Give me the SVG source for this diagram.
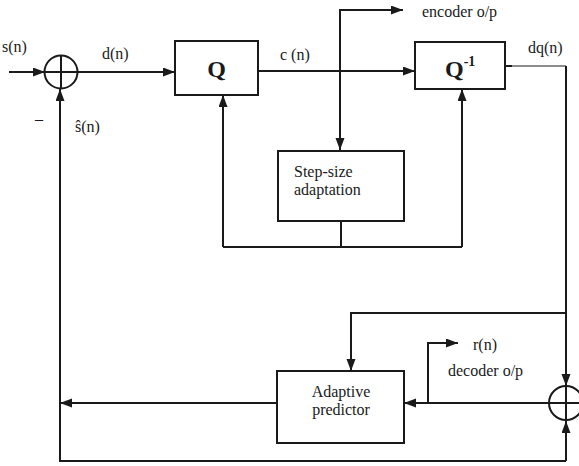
<svg xmlns="http://www.w3.org/2000/svg" width="579" height="466" viewBox="0 0 579 466">
<style>
.ln{fill:none;stroke:#1a1a1a;stroke-width:2}
.thin{fill:none;stroke:#1a1a1a;stroke-width:1.2}
.box{fill:#fff;stroke:#1a1a1a;stroke-width:2}
.t{font-family:"Liberation Serif","Times New Roman",serif;font-size:16px;fill:#1a1a1a}
.b{font-family:"Liberation Serif","Times New Roman",serif;font-size:24px;font-weight:bold;fill:#1a1a1a}
</style>
<defs>
<marker id="ah" markerUnits="userSpaceOnUse" markerWidth="13" markerHeight="10" refX="12" refY="4.5" orient="auto">
<path d="M0,0 L12,4.5 L0,9 z" fill="#1a1a1a"/>
</marker>
</defs>
<g id="connectors">
<line class="ln" x1="9" y1="72" x2="45" y2="72" marker-end="url(#ah)"/>
<line class="ln" x1="78" y1="72" x2="175" y2="72" marker-end="url(#ah)"/>
<line class="ln" x1="258" y1="71" x2="415" y2="71" marker-end="url(#ah)"/>
<polyline class="ln" points="340,20 340,10 403,10" marker-end="url(#ah)"/>
<line class="ln" x1="340" y1="10" x2="340" y2="150" marker-end="url(#ah)"/>
<polyline class="ln" points="341,221 341,247"/>
<polyline class="ln" points="223,247 462,247"/>
<line class="ln" x1="223" y1="247" x2="223" y2="95" marker-end="url(#ah)"/>
<line class="ln" x1="462" y1="247" x2="462" y2="89" marker-end="url(#ah)"/>
<line class="ln" x1="505" y1="66" x2="512" y2="66"/>
<polyline class="thin" points="512,66 566,66"/>
<polyline class="ln" points="566,66 566,386" marker-end="url(#ah)"/>
<polyline class="ln" points="566,313 351,313 351,371" marker-end="url(#ah)"/>
<line class="ln" x1="549" y1="403" x2="404" y2="403" marker-end="url(#ah)"/>
<polyline class="ln" points="428,403 428,343 458,343" marker-end="url(#ah)"/>
<line class="ln" x1="277" y1="403" x2="60" y2="403" marker-end="url(#ah)"/>
<polyline class="ln" points="566,461 566,421" marker-end="url(#ah)"/>
<polyline class="ln" points="566,461 60,461 60,89" marker-end="url(#ah)"/>
</g>
<g id="sum1">
<circle class="box" cx="61" cy="72" r="16.5"/>
<line class="ln" x1="44.5" y1="72" x2="77.5" y2="72"/>
<line class="ln" x1="61" y1="55.5" x2="61" y2="88.5"/>
</g>
<g id="sum2">
<circle class="box" cx="566" cy="403" r="17"/>
<line class="ln" x1="549" y1="403" x2="583" y2="403"/>
<line class="ln" x1="566" y1="386" x2="566" y2="420"/>
</g>
<g id="Q">
<rect class="box" x="175" y="41" width="83" height="54"/>
<text class="b" x="216.5" y="77" text-anchor="middle">Q</text>
</g>
<g id="Qinv">
<rect class="box" x="415" y="42" width="90" height="47"/>
<text class="b" x="445" y="77">Q<tspan font-size="14" dy="-11">-1</tspan></text>
</g>
<g id="stepsize">
<rect class="box" x="278" y="151" width="126" height="70"/>
<text class="t" x="294" y="177">Step-size</text>
<text class="t" x="294" y="195">adaptation</text>
</g>
<g id="predictor">
<rect class="box" x="277" y="371" width="127" height="72"/>
<text class="t" x="341" y="397" text-anchor="middle">Adaptive</text>
<text class="t" x="341" y="415" text-anchor="middle">predictor</text>
</g>
<g id="labels">
<text class="t" x="2" y="52">s(n)</text>
<text class="t" x="102" y="59">d(n)</text>
<text class="t" x="35" y="124">–</text>
<text class="t" x="75" y="132">ŝ(n)</text>
<text class="t" x="280" y="60">c (n)</text>
<text class="t" x="422" y="17">encoder o/p</text>
<text class="t" x="528" y="53">dq(n)</text>
<text class="t" x="473" y="350">r(n)</text>
<text class="t" x="448" y="376">decoder o/p</text>
</g>
</svg>
